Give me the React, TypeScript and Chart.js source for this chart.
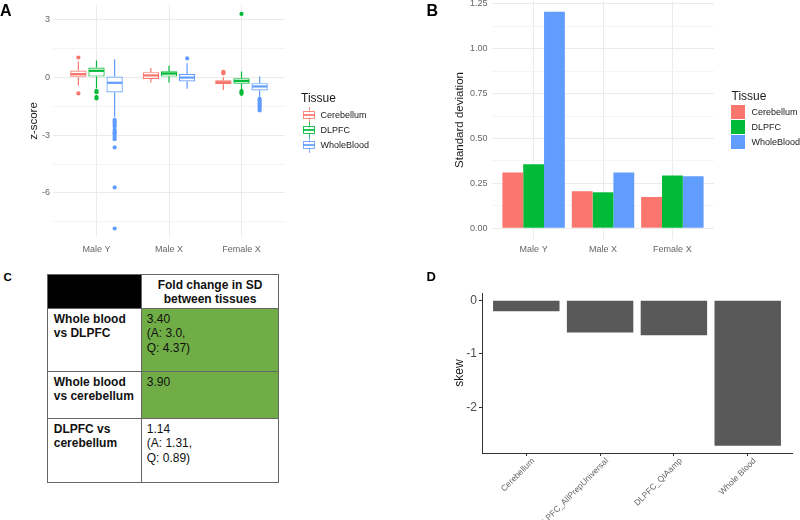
import React, { useEffect, useRef } from "react";
import { Chart, registerables } from "chart.js";

Chart.register(...registerables);

const FONT = "'Liberation Sans', Arial, Helvetica, sans-serif";
Chart.defaults.font.family = FONT;

// ---------------- Panel A : z-score boxplots ----------------
const groups = ["Male Y", "Male X", "Female X"];
const tissues = ["Cerebellum", "DLPFC", "WholeBlood"];
const tissueColors = ["#F8766D", "#00BA38", "#619CFF"];
const zTicks = [-6, -3, 0, 3];

// box statistics, indexed [tissue][group]
const whiskerLow = [
  [-0.43, -0.28, -0.66],
  [-0.57, -0.28, -0.62],
  [-2.07, -0.6, -1.03],
];
const quart1 = [
  [0.0, -0.09, -0.36],
  [0.03, 0.03, -0.34],
  [-0.79, -0.22, -0.69],
];
const medians = [
  [0.16, 0.09, -0.26],
  [0.33, 0.19, -0.19],
  [-0.29, -0.02, -0.48],
];
const quart3 = [
  [0.34, 0.26, -0.16],
  [0.5, 0.31, -0.05],
  [0.03, 0.17, -0.31],
];
const whiskerHigh = [
  [0.81, 0.47, 0.0],
  [0.86, 0.59, 0.29],
  [0.93, 0.72, 0.03],
];
const outliers = [
  [[1.02, -0.84], [], [0.28, 0.24, 0.19]],
  [[-0.71, -0.78, -1.03, -1.1], [], [3.28, -0.72, -0.79, -0.86]],
  [
    [-2.21, -2.29, -2.38, -2.47, -2.55, -2.72, -2.81, -2.9, -2.98, -3.1, -3.21, -3.64, -5.71, -7.84],
    [0.97],
    [-1.12, -1.2, -1.28, -1.36, -1.45, -1.55, -1.63, -1.72],
  ],
];

// ---------------- Panel B : standard deviation ----------------
const sdCerebellum = [0.31, 0.206, 0.174];
const sdDLPFC = [0.356, 0.2, 0.293];
const sdWholeBlood = [1.206, 0.31, 0.29];
const sdTicks = [0, 0.25, 0.5, 0.75, 1.0, 1.25];

// ---------------- Panel C : table ----------------
const tableHeader = ["Fold change in SD", "between tissues"];
const rowLabels = [
  ["Whole blood", "vs DLPFC"],
  ["Whole blood", "vs cerebellum"],
  ["DLPFC vs", "cerebellum"],
];
const rowValues = [
  ["3.40", "(A: 3.0,", "Q: 4.37)"],
  ["3.90"],
  ["1.14", "(A: 1.31,", "Q: 0.89)"],
];
const rowHighlight = [true, true, false];

// ---------------- Panel D : skew ----------------
const skewGroups = ["Cerebellum", "DLPFC_AllPrepUniversal", "DLPFC_QIAamp", "Whole Blood"];
const skewValues = [-0.205, -0.6, -0.65, -2.71];
const skewTicks = [0, -1, -2];

// ------------------------------------------------------------
function withMinor(major: number[], min: number, max: number) {
  const s = [...major].sort((a, b) => a - b);
  const step = s[1] - s[0];
  const out: number[] = [];
  for (let v = s[0] - step / 2; v <= s[s.length - 1] + step / 2 + 1e-9; v += step / 2) {
    const r = Math.round(v * 1e6) / 1e6;
    if (r >= min && r <= max) out.push(r);
  }
  return out;
}
const isMajor = (list: number[], v: number) => list.some((m) => Math.abs(m - v) < 1e-6);

const noInteraction = {
  legend: { display: false },
  tooltip: { enabled: false },
};

function boxConfig(): any {
  const yMin = -8.28;
  const yMax = 3.74;
  const dodge = 0.25;
  const boxSets = tissues.map((t, ti) => ({
    type: "bar",
    label: t,
    data: groups.map((_g, gi) => ({ x: gi + 1, y: [quart1[ti][gi], quart3[ti][gi]] })),
    backgroundColor: "#ffffff",
    borderColor: tissueColors[ti],
    borderWidth: 1.2,
    borderSkipped: false,
    categoryPercentage: 0.75,
    barPercentage: 0.9,
    order: 1,
  }));
  const pointSets = tissues.map((t, ti) => ({
    type: "scatter",
    label: t + " outliers",
    data: groups.flatMap((_g, gi) =>
      outliers[ti][gi].map((v) => ({ x: gi + 1 + (ti - 1) * dodge, y: v }))
    ),
    backgroundColor: tissueColors[ti],
    borderWidth: 0,
    pointRadius: 2.1,
    order: 0,
  }));
  const boxParts = {
    id: "boxParts",
    afterDatasetsDraw(chart: any) {
      const ctx = chart.ctx;
      const y = chart.scales.y;
      tissues.forEach((_t, ti) => {
        const meta = chart.getDatasetMeta(ti);
        meta.data.forEach((el: any, gi: number) => {
          const cx = el.x;
          const w = el.width;
          ctx.save();
          ctx.strokeStyle = tissueColors[ti];
          ctx.lineWidth = 1.2;
          ctx.beginPath();
          ctx.moveTo(cx, y.getPixelForValue(quart3[ti][gi]));
          ctx.lineTo(cx, y.getPixelForValue(whiskerHigh[ti][gi]));
          ctx.moveTo(cx, y.getPixelForValue(quart1[ti][gi]));
          ctx.lineTo(cx, y.getPixelForValue(whiskerLow[ti][gi]));
          ctx.stroke();
          ctx.lineWidth = 2.2;
          ctx.beginPath();
          const my = y.getPixelForValue(medians[ti][gi]);
          ctx.moveTo(cx - w / 2 + 0.6, my);
          ctx.lineTo(cx + w / 2 - 0.6, my);
          ctx.stroke();
          ctx.restore();
        });
      });
    },
  };
  return {
    type: "bar",
    data: { datasets: [...boxSets, ...pointSets] },
    plugins: [boxParts],
    options: {
      responsive: false,
      animation: false,
      events: [],
      layout: { padding: { left: 0, top: 5, right: 115, bottom: 0 } },
      plugins: noInteraction,
      scales: {
        x: {
          type: "linear",
          min: 0.4,
          max: 3.6,
          offset: false,
          afterBuildTicks: (s: any) => {
            s.ticks = groups.map((_g, i) => ({ value: i + 1 }));
          },
          afterFit: (s: any) => {
            s.height = 25;
            s.paddingLeft = 0;
            s.paddingRight = 0;
          },
          ticks: {
            callback: (v: number) => groups[Math.round(v) - 1] ?? "",
            font: { size: 9 },
            color: "#666",
            padding: 7,
            maxRotation: 0,
            autoSkip: false,
          },
          grid: { color: "#ebebeb", lineWidth: 1, drawTicks: false, offset: false },
          border: { display: false },
        },
        y: {
          type: "linear",
          min: yMin,
          max: yMax,
          afterBuildTicks: (s: any) => {
            s.ticks = withMinor(zTicks, yMin, yMax).map((v) => ({ value: v }));
          },
          afterFit: (s: any) => {
            s.width = 53;
            s.paddingTop = 0;
            s.paddingBottom = 0;
          },
          ticks: {
            callback: (v: number) => (isMajor(zTicks, v) ? String(v) : ""),
            font: { size: 9 },
            color: "#666",
            padding: 3,
          },
          grid: {
            color: (c: any) => (isMajor(zTicks, c.tick.value) ? "#ebebeb" : "#f4f4f4"),
            lineWidth: 1,
            drawTicks: false,
          },
          border: { display: false },
          title: {
            display: true,
            text: "z-score",
            font: { size: 11.5 },
            color: "#1a1a1a",
            padding: { top: 27, bottom: 0 },
          },
        },
      },
    },
  };
}

function sdConfig(): any {
  const series = [sdCerebellum, sdDLPFC, sdWholeBlood];
  const top = Math.max(...series.flat());
  const yMax = top * 1.05;
  const yMin = -top * 0.05;
  return {
    type: "bar",
    data: {
      datasets: tissues.map((t, ti) => ({
        label: t,
        data: groups.map((_g, gi) => ({ x: gi + 1, y: series[ti][gi] })),
        backgroundColor: tissueColors[ti],
        borderWidth: 0,
        categoryPercentage: 0.9,
        barPercentage: 1.0,
      })),
    },
    options: {
      responsive: false,
      animation: false,
      events: [],
      layout: { padding: { left: 0, top: 1, right: 86, bottom: 0 } },
      plugins: noInteraction,
      scales: {
        x: {
          type: "linear",
          min: 0.4,
          max: 3.6,
          offset: false,
          afterBuildTicks: (s: any) => {
            s.ticks = groups.map((_g, i) => ({ value: i + 1 }));
          },
          afterFit: (s: any) => {
            s.height = 23;
            s.paddingLeft = 0;
            s.paddingRight = 0;
          },
          ticks: {
            callback: (v: number) => groups[Math.round(v) - 1] ?? "",
            font: { size: 9 },
            color: "#666",
            padding: 5,
            maxRotation: 0,
            autoSkip: false,
          },
          grid: { color: "#ebebeb", lineWidth: 1, drawTicks: false, offset: false },
          border: { display: false },
        },
        y: {
          type: "linear",
          min: yMin,
          max: yMax,
          afterBuildTicks: (s: any) => {
            s.ticks = withMinor(sdTicks, yMin, yMax).map((v) => ({ value: v }));
          },
          afterFit: (s: any) => {
            s.width = 92;
            s.paddingTop = 0;
            s.paddingBottom = 0;
          },
          ticks: {
            callback: (v: number) => (isMajor(sdTicks, v) ? v.toFixed(2) : ""),
            font: { size: 9 },
            color: "#666",
            padding: 4.5,
          },
          grid: {
            color: (c: any) => (isMajor(sdTicks, c.tick.value) ? "#ebebeb" : "#f4f4f4"),
            lineWidth: 1,
            drawTicks: false,
          },
          border: { display: false },
          title: {
            display: true,
            text: "Standard deviation",
            font: { size: 11.5 },
            color: "#1a1a1a",
            padding: { top: 53, bottom: 0 },
          },
        },
      },
    },
  };
}

function skewConfig(): any {
  const lo = Math.min(0, ...skewValues);
  const hi = Math.max(0, ...skewValues);
  const pad = (hi - lo) * 0.05;
  const yMin = lo - pad;
  const yMax = hi + pad;
  return {
    type: "bar",
    data: {
      datasets: [
        {
          label: "skew",
          data: skewGroups.map((_g, i) => ({ x: i + 1, y: skewValues[i] })),
          backgroundColor: "#595959",
          borderWidth: 0,
          categoryPercentage: 0.9,
          barPercentage: 1.0,
        },
      ],
    },
    options: {
      responsive: false,
      animation: false,
      events: [],
      layout: { padding: { left: 0, top: 31, right: 8, bottom: 0 } },
      plugins: noInteraction,
      scales: {
        x: {
          type: "linear",
          min: 0.4,
          max: skewGroups.length + 0.6,
          offset: false,
          afterBuildTicks: (s: any) => {
            s.ticks = skewGroups.map((_g, i) => ({ value: i + 1 }));
          },
          afterFit: (s: any) => {
            s.height = 67;
            s.paddingLeft = 0;
            s.paddingRight = 0;
          },
          ticks: {
            callback: (v: number) => skewGroups[Math.round(v) - 1] ?? "",
            font: { size: 8.5 },
            color: "#666",
            padding: 0,
            labelOffset: 7,
            minRotation: 45,
            maxRotation: 45,
            autoSkip: false,
          },
          grid: {
            drawOnChartArea: false,
            drawTicks: true,
            tickLength: 3,
            tickColor: "#333",
            offset: false,
          },
          border: { display: true, color: "#333", width: 1 },
        },
        y: {
          type: "linear",
          min: yMin,
          max: yMax,
          afterBuildTicks: (s: any) => {
            s.ticks = skewTicks.map((v) => ({ value: v }));
          },
          afterFit: (s: any) => {
            s.width = 82;
            s.paddingTop = 0;
            s.paddingBottom = 0;
          },
          ticks: {
            callback: (v: number) => String(v),
            font: { size: 12 },
            color: "#4d4d4d",
            padding: 2,
          },
          grid: {
            drawOnChartArea: false,
            drawTicks: true,
            tickLength: 3,
            tickColor: "#333",
          },
          border: { display: true, color: "#333", width: 1 },
          title: {
            display: true,
            text: "skew",
            font: { size: 12 },
            color: "#1a1a1a",
            padding: { top: 52.8, bottom: 0 },
          },
        },
      },
    },
  };
}

function ChartBox(props: { left: number; top: number; width: number; height: number; make: () => any }) {
  const ref = useRef<HTMLCanvasElement>(null);
  useEffect(() => {
    const chart = new Chart(ref.current as HTMLCanvasElement, props.make());
    return () => chart.destroy();
  }, []);
  return (
    <canvas
      ref={ref}
      width={props.width}
      height={props.height}
      style={{ position: "absolute", left: props.left, top: props.top, width: props.width, height: props.height }}
    />
  );
}

const abs = (s: React.CSSProperties): React.CSSProperties => ({ position: "absolute", ...s });

function BoxKey({ color, left, top }: { color: string; left: number; top: number }) {
  return (
    <div style={abs({ left, top, width: 12, height: 16 })}>
      <div style={abs({ left: 5.5, top: 0, width: 1.2, height: 16, background: color, opacity: 0.8 })} />
      <div
        style={abs({
          left: 0,
          top: 4,
          width: 12,
          height: 8,
          boxSizing: "border-box",
          border: `1.2px solid ${color}`,
          background: "#fff",
          opacity: 0.85,
        })}
      />
      <div style={abs({ left: 0, top: 7.3, width: 12, height: 1.5, background: color, opacity: 0.85 })} />
    </div>
  );
}

function Legends() {
  const label = (text: string, left: number, cy: number, size = 9) => (
    <div
      key={text + left}
      style={abs({ left, top: cy - 7, height: 14, lineHeight: "14px", fontSize: size, color: "#1a1a1a", whiteSpace: "nowrap" })}
    >
      {text}
    </div>
  );
  return (
    <>
      {label("Tissue", 301, 98, 12)}
      {tissues.map((t, i) => (
        <React.Fragment key={"a" + t}>
          <BoxKey color={tissueColors[i]} left={303} top={115 + i * 15 - 8} />
          {label(t, 320.5, 115 + i * 15)}
        </React.Fragment>
      ))}
      {label("Tissue", 731.5, 95.5, 12)}
      {tissues.map((t, i) => (
        <React.Fragment key={"b" + t}>
          <div style={abs({ left: 731, top: 105 + i * 15, width: 14, height: 14, background: tissueColors[i] })} />
          {label(t, 751.5, 112 + i * 15)}
        </React.Fragment>
      ))}
    </>
  );
}

function FoldTable() {
  const xs = [48, 142, 278];
  const ys = [275, 309, 372, 419, 482];
  const bw = 1.5;
  const bc = "#666";
  const cell = (x0: number, y0: number, x1: number, y1: number, bg: string, content: React.ReactNode, key: string, extra: React.CSSProperties = {}) => (
    <div
      key={key}
      style={abs({
        left: x0 - bw / 2,
        top: y0 - bw / 2,
        width: x1 - x0 + bw,
        height: y1 - y0 + bw,
        boxSizing: "border-box",
        border: `${bw}px solid ${bc}`,
        background: bg,
        fontSize: 12,
        lineHeight: "14.5px",
        color: "#111",
        ...extra,
      })}
    >
      {content}
    </div>
  );
  const lines = (arr: string[]) => arr.map((l, i) => <div key={i}>{l}</div>);
  const cells: React.ReactNode[] = [];
  cells.push(cell(xs[0], ys[0], xs[1], ys[1], "#000", null, "h0"));
  cells.push(
    cell(xs[1], ys[0], xs[2], ys[1], "#fff", <div>{lines(tableHeader)}</div>, "h1", {
      display: "flex",
      alignItems: "center",
      justifyContent: "center",
      textAlign: "center",
      fontWeight: "bold",
      lineHeight: "14.3px",
    })
  );
  rowLabels.forEach((lab, r) => {
    cells.push(
      cell(xs[0], ys[r + 1], xs[1], ys[r + 2], "#fff", lines(lab), "l" + r, {
        fontWeight: "bold",
        paddingLeft: 5.5,
        paddingTop: 2.5,
      })
    );
    cells.push(
      cell(xs[1], ys[r + 1], xs[2], ys[r + 2], rowHighlight[r] ? "#70AD47" : "#fff", lines(rowValues[r]), "v" + r, {
        paddingLeft: 4.5,
        paddingTop: 2.5,
      })
    );
  });
  return <>{cells}</>;
}

function PanelLetters() {
  const L = (t: string, left: number, top: number, size: number) => (
    <div key={t} style={abs({ left, top, fontSize: size, lineHeight: `${size}px`, fontWeight: "bold", color: "#000" })}>
      {t}
    </div>
  );
  return (
    <>
      {L("A", 0, 3, 16)}
      {L("B", 426.5, 3, 16)}
      {L("C", 3.5, 271.5, 11.5)}
      {L("D", 426.5, 270, 13)}
    </>
  );
}

export default function App() {
  return (
    <div
      style={{
        position: "absolute",
        left: 0,
        top: 0,
        width: 800,
        height: 520,
        overflow: "hidden",
        background: "#fff",
        fontFamily: FONT,
      }}
    >
      <ChartBox left={0} top={0} width={400} height={262} make={boxConfig} />
      <ChartBox left={400} top={0} width={400} height={262} make={sdConfig} />
      <ChartBox left={400} top={262} width={400} height={258} make={skewConfig} />
      <Legends />
      <FoldTable />
      <PanelLetters />
    </div>
  );
}
